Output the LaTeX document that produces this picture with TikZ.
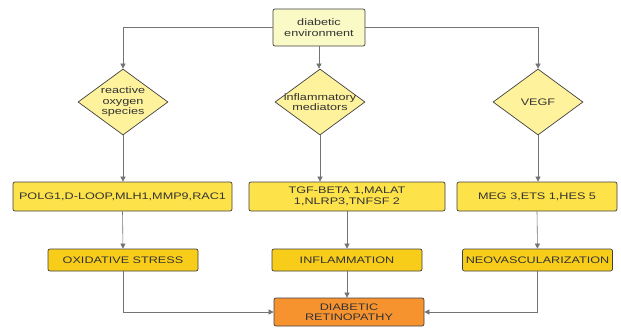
\documentclass[tikz,border=0pt]{standalone}
\usepackage{fontspec}
\setmainfont{Liberation Sans}[FakeStretch=1.33]
\usetikzlibrary{shapes.geometric,arrows.meta}
\definecolor{envY}{HTML}{FAFAC6}
\definecolor{diaY}{HTML}{FEF29C}
\definecolor{genY}{HTML}{FDE24A}
\definecolor{effY}{HTML}{F8CD1A}
\definecolor{drO}{HTML}{F7932F}
\begin{document}
\begin{tikzpicture}[x=1pt,y=1pt,font=\fontsize{9.5}{10.5}\selectfont,box/.style={shape=rectangle,draw=black!75,line width=0.7pt,rounded corners=2pt,text=black!80,align=center,inner sep=0pt},dia/.style={shape=diamond,draw=black!75,line width=0.7pt,fill=diaY,inner sep=0pt,minimum width=90pt,minimum height=66pt},lab/.style={align=center,text=black!80},gen/.style={box,fill=genY,minimum height=29pt},eff/.style={box,fill=effY,minimum width=150pt,minimum height=22pt},arr/.style={draw=black!55,line width=0.6pt,-{Triangle[length=5pt,width=5pt]}}]
\def\xl{123};
\def\xm{320};
\def\xr{538};
\def\ya{-102};
\def\yb{-196.5};
\def\yc{-260};

\useasboundingbox (0,0) rectangle (621,-327);

\node[box,fill=envY,minimum width=92pt,minimum height=37pt] (E) at (319,-27.5) {diabetic\\environment};

\node[dia,label={[lab]center:reactive\\oxygen\\species}] (R) at (\xl,\ya) {};
\draw[arr] (E.west) -| (R.north);
\node[dia,label={[lab]center:inflammatory\\mediators}] (I) at (\xm,\ya) {};
\draw[arr] (E.south) -- (E.south |- I.north);
\node[dia,label={[lab]center:VEGF}] (V) at (\xr,\ya) {};
\draw[arr] (E.east) -| (V.north);

\node[gen,minimum width=219pt] (G1) at (122.5,\yb) {POLG1,D-LOOP,MLH1,MMP9,RAC1};
\draw[arr] (R.south) -- (R.south |- G1.north);
\node[gen,minimum width=196pt] (G2) at (347,\yb) {TGF-BETA 1,MALAT\\1,NLRP3,TNFSF 2};
\draw[arr] (I.south) -- (I.south |- G2.north);
\node[gen,minimum width=160pt] (G3) at (537,\yb) {MEG 3,ETS 1,HES 5};
\draw[arr] (V.south) -- (V.south |- G3.north);

\node[eff] (O) at (\xl,\yc) {OXIDATIVE STRESS};
\draw[arr] (G1.south) -- (O.north);
\node[eff] (F) at (347,\yc) {INFLAMMATION};
\draw[arr] (G2.south) -- (F.north);
\node[eff] (N) at (537.5,\yc) {NEOVASCULARIZATION};
\draw[arr] (G3.south) -- (N.north);

\node[box,fill=drO,minimum width=150pt,minimum height=28pt] (DR) at (349,-312) {DIABETIC\\RETINOPATHY};
\draw[arr] (O.south) |- (DR.west);
\draw[arr] (F.south) -- (F.south |- DR.north);
\draw[arr] (N.south) |- (DR.east);
\end{tikzpicture}
\end{document}
